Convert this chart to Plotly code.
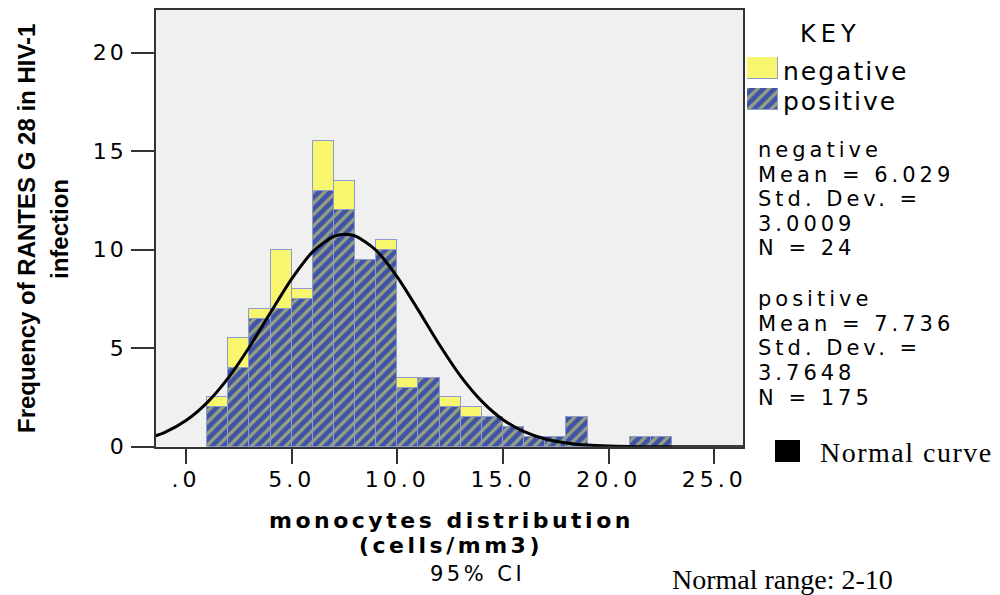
import plotly.graph_objects as go

# ---------------- data ----------------
bin_starts = [1, 2, 3, 4, 5, 6, 7, 8, 9, 10, 11, 12, 13, 14, 15, 16, 17, 18, 19, 20, 21, 22]
positive = [2, 4, 6.5, 7, 7.5, 13, 12, 9.5, 10, 3, 3.5, 2, 1.5, 1.5, 1, 0.5, 0.5, 1.5, 0, 0, 0.5, 0.5]
negative = [0.5, 1.5, 0.5, 3, 0.5, 2.5, 1.5, 0, 0.5, 0.5, 0, 0.5, 0.5, 0, 0, 0, 0, 0, 0, 0, 0, 0]

curve_x = [-1.5, -1, 0, 1, 2, 3, 4, 5, 6, 7, 7.5, 8, 9, 10, 11, 12, 13, 14, 15, 16, 17, 18, 19, 20, 21, 22, 24, 26.5]
curve_y = [0.53, 0.73, 1.33, 2.24, 3.49, 5.06, 6.81, 8.52, 9.90, 10.68, 10.79, 10.70, 9.96, 8.61, 6.92, 5.16,
           3.57, 2.30, 1.37, 0.76, 0.39, 0.19, 0.08, 0.03, 0.01, 0.0, 0.0, 0.0]

x_tickvals = [0, 5, 10, 15, 20, 25]
x_ticktext = [".0", "5.0", "10.0", "15.0", "20.0", "25.0"]
y_tickvals = [0, 5, 10, 15, 20]
y_ticktext = ["0", "5", "10", "15", "20"]

legend_labels = ["negative", "positive"]
stats_negative = ["negative", "Mean = 6.029", "Std. Dev. =", "3.0009", "N = 24"]
stats_positive = ["positive", "Mean = 7.736", "Std. Dev. =", "3.7648", "N = 175"]

# ---------------- styles ----------------
W, H = 1000, 595
BLUE = "#3F54A8"
STRIPE = "#F0EE55"
YELLOW = "#F8F56E"
EDGE = "#8D9BD2"
AXIS = "#333333"
TEXT = "#000000"
SANS = "DejaVu Sans"
SERIF = "Liberation Serif"


def px(x):
    return x / W


def py(y):
    return 1 - y / H


def sp(text, spacing):
    return f'<span style="letter-spacing:{spacing}px">{text}</span>'


pos_marker = dict(color=BLUE, line=dict(color=EDGE, width=1),
                  pattern=dict(shape="/", fgcolor=STRIPE, bgcolor=BLUE, size=8, solidity=0.4))
neg_marker = dict(color=YELLOW, line=dict(color=EDGE, width=1))

fig = go.Figure()
fig.add_trace(go.Bar(x=bin_starts, y=positive, width=1, offset=0, marker=pos_marker,
                     name="positive", hoverinfo="x+y"))
fig.add_trace(go.Bar(x=bin_starts, y=negative, width=1, offset=0, marker=neg_marker,
                     name="negative", hoverinfo="x+y"))
fig.add_trace(go.Scatter(x=curve_x, y=curve_y, mode="lines",
                         line=dict(color="black", width=3, shape="spline", smoothing=0.8),
                         name="Normal curve", hoverinfo="skip"))

# legend swatches drawn as tiny bars on their own hidden axes
fig.add_trace(go.Bar(x=[0], y=[1], width=1, marker=neg_marker, xaxis="x2", yaxis="y2",
                     name=legend_labels[0], hoverinfo="skip"))
fig.add_trace(go.Bar(x=[0], y=[1], width=1, marker=pos_marker, xaxis="x3", yaxis="y3",
                     name=legend_labels[1], hoverinfo="skip"))

axis_common = dict(showline=True, mirror=True, linecolor=AXIS, linewidth=1.5, ticks="outside",
                   tickcolor=AXIS, tickwidth=1.5, showgrid=False, zeroline=False, fixedrange=True,
                   automargin=False)
hidden = dict(visible=False, fixedrange=True, automargin=False)

fig.update_layout(
    width=W, height=H, autosize=False,
    margin=dict(l=0, r=0, t=0, b=0, pad=0, autoexpand=False),
    paper_bgcolor="white", plot_bgcolor="#F0F0F0",
    barmode="stack", bargap=0, showlegend=False,
    font=dict(family=SANS, color=TEXT),
    xaxis=dict(domain=[px(156), px(743.3)], range=[-1.42, 26.37], ticklen=16, ticklabelstandoff=-4,
               tickvals=x_tickvals, ticktext=[sp(t, 4) for t in x_ticktext],
               tickfont=dict(size=22, family=SANS, color=TEXT), **axis_common),
    yaxis=dict(domain=[py(446.7), py(10)], range=[0, 22.17], ticklen=23,
               tickvals=y_tickvals, ticktext=[sp(t, 3) for t in y_ticktext],
               tickfont=dict(size=22, family=SANS, color=TEXT), **axis_common),
    xaxis2=dict(domain=[px(747), px(778)], range=[-0.5, 0.5], anchor="y2", **hidden),
    yaxis2=dict(domain=[py(79), py(57)], range=[0, 1], anchor="x2", **hidden),
    xaxis3=dict(domain=[px(747), px(778)], range=[-0.5, 0.5], anchor="y3", **hidden),
    yaxis3=dict(domain=[py(110), py(88)], range=[0, 1], anchor="x3", **hidden),
)

# black square for the normal curve key
fig.add_shape(type="rect", xref="paper", yref="paper", x0=px(775), x1=px(800), y0=py(462), y1=py(440),
              fillcolor="black", line=dict(width=0))

ann = []


def add_text(text, x, y, size, family=SANS, xanchor="left", bold=False, angle=0, spacing=0):
    t = sp(text, spacing) if spacing else text
    if bold:
        t = f"<b>{t}</b>"
    ann.append(dict(text=t, x=px(x), y=py(y), xref="paper", yref="paper", showarrow=False,
                    xanchor=xanchor, yanchor="middle", textangle=angle,
                    font=dict(size=size, family=family, color=TEXT)))


# KEY and legend labels
add_text("KEY", 830, 33.5, 24, xanchor="center", spacing=5)
add_text(legend_labels[0], 781, 71, 25, spacing=2)
add_text(legend_labels[1], 781, 101, 25, spacing=2)

# statistics blocks
neg_y = [150, 174.5, 199, 223.5, 247.5]
pos_y = [298.5, 323.5, 348, 372.5, 397.5]
for line, yy in zip(stats_negative, neg_y):
    add_text(line, 756, yy, 21, spacing=4)
for line, yy in zip(stats_positive, pos_y):
    add_text(line, 756, yy, 21, spacing=4)

add_text("Normal curve", 818, 452, 28, family=SERIF, spacing=1.5)
add_text("Normal range: 2-10", 670, 579, 28, family=SERIF)
add_text("95% CI", 428, 574, 21, spacing=3.5)

# axis titles
add_text("monocytes distribution", 451, 520.5, 22, xanchor="center", bold=True, spacing=3.5)
add_text("(cells/mm3)", 451, 545, 22, xanchor="center", bold=True, spacing=3.5)
add_text("Frequency of RANTES G 28 in HIV-1", 27, 229, 24, family="Liberation Sans", xanchor="center",
         bold=True, angle=-90)
add_text("infection", 60, 229, 24, family="Liberation Sans", xanchor="center", bold=True, angle=-90)

fig.update_layout(annotations=ann)
# the browser's default 8px body margin would push the 1000x595 figure off the window; remove it
fig.write_html("out.html", config={"displayModeBar": False},
               post_script="document.body.style.margin='0px';")
